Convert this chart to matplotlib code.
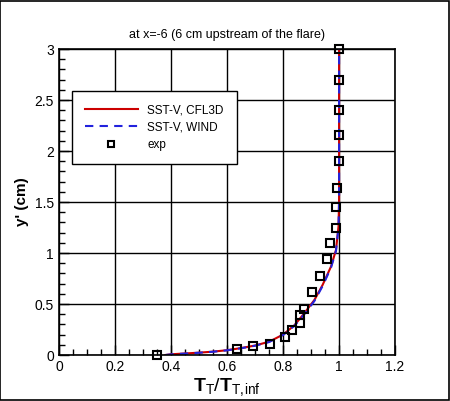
import numpy as np
import matplotlib
matplotlib.use('Agg')
import matplotlib.pyplot as plt
from matplotlib.ticker import MultipleLocator
from matplotlib.patches import Rectangle

plt.rcParams['font.family'] = ['Liberation Sans', 'DejaVu Sans']
plt.rcParams['mathtext.fontset'] = 'custom'
plt.rcParams['mathtext.rm'] = 'Liberation Sans'
plt.rcParams['mathtext.bf'] = 'Liberation Sans:bold'

# SST-V, CFL3D
cfl3d_x = [0.38, 0.40, 0.45, 0.50, 0.55, 0.60, 0.65, 0.70, 0.75, 0.80, 0.84, 0.876, 0.912, 0.941, 0.971, 0.989, 0.998, 1.0, 1.0]
cfl3d_y = [0.0, 0.007, 0.015, 0.023, 0.033, 0.047, 0.068, 0.093, 0.13, 0.20, 0.29, 0.41, 0.54, 0.686, 0.866, 1.03, 1.26, 1.52, 3.0]

# SST-V, WIND
wind_x = [0.38, 0.40, 0.45, 0.50, 0.55, 0.60, 0.65, 0.70, 0.75, 0.80, 0.84, 0.876, 0.912, 0.941, 0.971, 0.989, 0.998, 1.0, 1.0]
wind_y = [0.0, 0.006, 0.014, 0.022, 0.032, 0.046, 0.066, 0.091, 0.127, 0.196, 0.285, 0.40, 0.53, 0.675, 0.855, 1.02, 1.25, 1.50, 3.0]

# experiment
exp_x = [0.35, 0.637, 0.693, 0.753, 0.806, 0.832, 0.86, 0.86, 0.876, 0.905, 0.932, 0.958, 0.968, 0.989, 0.990, 0.992, 1.0, 1.0, 1.0, 1.0, 1.0]
exp_y = [0.0, 0.06, 0.088, 0.11, 0.178, 0.246, 0.315, 0.388, 0.452, 0.62, 0.77, 0.94, 1.095, 1.25, 1.454, 1.64, 1.905, 2.16, 2.40, 2.70, 3.0]

fig = plt.figure(figsize=(4.5, 4.01), dpi=100)
ax = fig.add_axes([0.131, 0.1147, 0.747, 0.763])

ax.plot(cfl3d_x, cfl3d_y, '-', c='#cc0000', lw=1.5, label='SST-V, CFL3D')
ax.plot(wind_x, wind_y, '--', c='#2222dd', lw=1.5, dashes=(4, 3), label='SST-V, WIND')
ax.plot(exp_x, exp_y, 's', mfc='none', mec='black', mew=1.5, ms=5.5, label='exp', clip_on=False)

ax.set_xlim(0, 1.2)
ax.set_ylim(0, 3)
ax.xaxis.set_minor_locator(MultipleLocator(0.05))
ax.yaxis.set_minor_locator(MultipleLocator(0.1))
ax.xaxis.set_ticks([0, 0.2, 0.4, 0.6, 0.8, 1.0, 1.2])
ax.set_xticklabels(['0', '0.2', '0.4', '0.6', '0.8', '1', '1.2'])
ax.yaxis.set_ticks([0, 0.5, 1.0, 1.5, 2.0, 2.5, 3.0])
ax.set_yticklabels(['0', '0.5', '1', '1.5', '2', '2.5', '3'])
ax.tick_params(which='both', direction='in', labelsize=10, width=1)
ax.tick_params(which='major', length=7)
ax.tick_params(which='minor', length=4)
ax.grid(True, color='black', lw=1)
for s in ax.spines.values():
    s.set_linewidth(1.2)

ax.set_xlabel(r'$\mathbf{T}_{\rm T}/\mathbf{T}_{\rm T,\!inf}$', fontsize=14, labelpad=2)
ax.set_ylabel("y' (cm)", fontsize=11, fontweight='bold', labelpad=4)
ax.set_title('at x=-6 (6 cm upstream of the flare)', fontsize=9, pad=8)

leg = ax.legend(loc='upper left', bbox_to_anchor=(0.038, 0.862), fontsize=8.5,
                frameon=True, fancybox=False, edgecolor='black', framealpha=1,
                handlelength=4.5, borderpad=1.1, labelspacing=0.45, borderaxespad=0,
                markerscale=0.8)
leg.get_frame().set_linewidth(1)

fig.patches.append(Rectangle((0.001, 0.002), 0.997, 0.996, transform=fig.transFigure,
                             fill=False, ec='black', lw=1.2))

plt.savefig('out.png', dpi=100)
